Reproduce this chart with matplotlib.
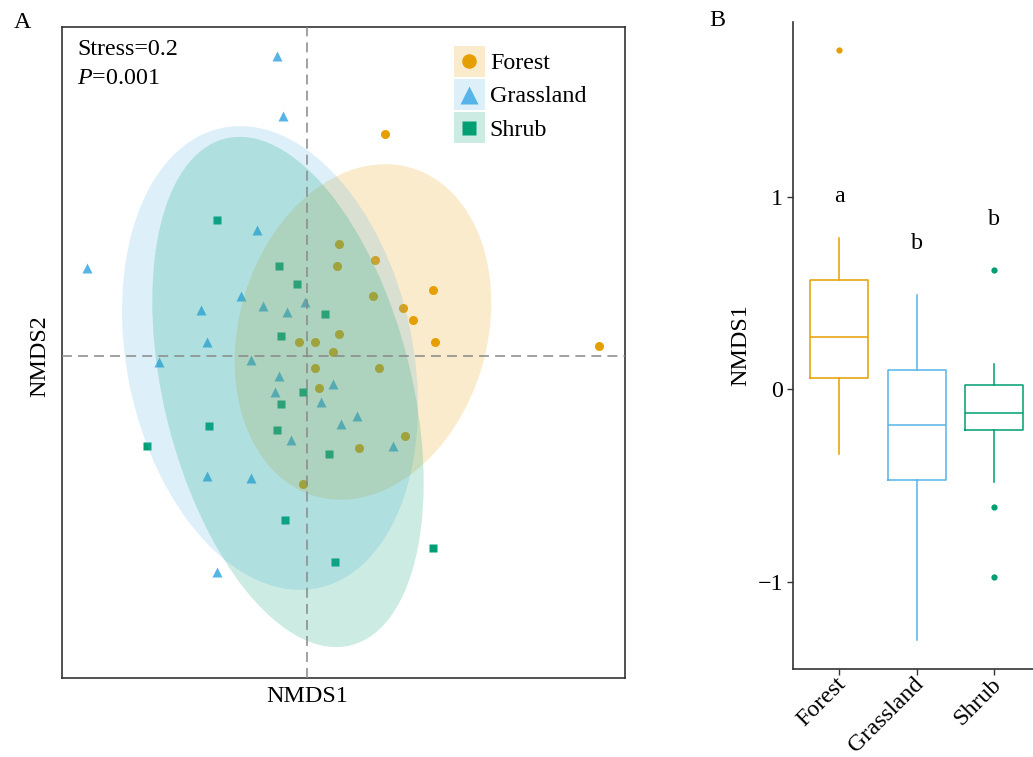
import matplotlib.pyplot as plt
import numpy as np
from matplotlib.patches import Ellipse, Patch
from matplotlib.lines import Line2D
from matplotlib.legend_handler import HandlerLine2D
from matplotlib.transforms import ScaledTranslation

plt.rcParams['font.family'] = ['Liberation Serif', 'DejaVu Serif']
plt.rcParams['mathtext.fontset'] = 'custom'
plt.rcParams['mathtext.rm'] = 'Liberation Serif'
plt.rcParams['mathtext.it'] = 'Liberation Serif:italic'
plt.rcParams['font.size'] = 17.3

groups = ['Forest', 'Grassland', 'Shrub']
colors = ['#E69F00', '#56B4E9', '#009E73']
markers = ['o', '^', 's']

# NMDS site scores
forest_x = [0.16, 0.15, 0.34, 0.33, 0.63, 0.48, 0.53, 0.16, -0.04, 0.04,
            0.64, 0.13, 0.04, 0.36, 0.06, 0.49, 0.26, -0.02, 0.39, 1.46]
forest_y = [0.56, 0.45, 0.48, 0.30, 0.33, 0.24, 0.18, 0.11, 0.07, 0.07,
            0.07, 0.02, -0.06, -0.06, -0.16, -0.40, -0.46, -0.64, 1.11, 0.05]
grass_x = [-0.15, -0.12, -1.10, -0.25, -0.33, -0.53, -0.22, -0.10, -0.01, -0.50,
           -0.74, -0.28, -0.14, -0.16, 0.13, 0.07, 0.25, 0.17, -0.08, 0.43,
           -0.50, -0.28, -0.45]
grass_y = [1.50, 1.20, 0.44, 0.63, 0.30, 0.23, 0.25, 0.22, 0.27, 0.07,
           -0.03, -0.02, -0.10, -0.18, -0.14, -0.23, -0.30, -0.34, -0.42, -0.45,
           -0.60, -0.61, -1.08]
shrub_x = [-0.45, -0.14, -0.05, 0.09, -0.13, -0.02, -0.13, -0.49, -0.15, -0.80,
           0.11, -0.11, 0.14, 0.63]
shrub_y = [0.68, 0.45, 0.36, 0.21, 0.10, -0.18, -0.24, -0.35, -0.37, -0.45,
           -0.49, -0.82, -1.03, -0.96]

# 95% confidence ellipses: centre, axis lengths, rotation (deg)
ell_cx = [0.28, -0.185, -0.095]
ell_cy = [0.12, -0.01, -0.18]
ell_w = [1.71, 2.35, 2.61]
ell_h = [1.24, 1.43, 1.24]
ell_angle = [73.7, 101.8, 103.9]

# NMDS1 summary per habitat
box_q1 = [0.06, -0.47, -0.21]
box_med = [0.27, -0.185, -0.125]
box_q3 = [0.57, 0.10, 0.025]
box_lo = [-0.335, -1.30, -0.48]
box_hi = [0.785, 0.49, 0.13]
box_fliers = [[1.765], [], [0.62, -0.61, -0.975]]
sig_letters = ['a', 'b', 'b']
letter_y = [1.0, 0.76, 0.88]

xs = [forest_x, grass_x, shrub_x]
ys = [forest_y, grass_y, shrub_y]


class CenteredMarker(HandlerLine2D):
    # put the legend marker in the middle of the filled key box
    def create_artists(self, legend, orig_handle, xdescent, ydescent,
                       width, height, fontsize, trans):
        arts = super().create_artists(legend, orig_handle, xdescent, ydescent,
                                      width, height, fontsize, trans)
        for a in arts:
            a.set_ydata(np.full(len(a.get_xdata()), height / 2 - ydescent))
        return arts


fig = plt.figure(figsize=(10.33, 7.57), dpi=100)

# ---- A: NMDS ordination
axA = fig.add_axes([0.060, 0.1044, 0.545, 0.860])
msize = [6.5, 7.5, 6.2]
for i in range(3):
    axA.plot(xs[i], ys[i], ls='none', marker=markers[i], color=colors[i],
             ms=msize[i], mec='none', zorder=2)
for i in range(3):
    axA.add_patch(Ellipse((ell_cx[i], ell_cy[i]), ell_w[i], ell_h[i],
                          angle=ell_angle[i], facecolor=colors[i],
                          edgecolor='none', alpha=0.2, zorder=3))
axA.axhline(0, color='#888888', ls=(0, (6.5, 4)), lw=1.1, zorder=4)
axA.axvline(0, color='#888888', ls=(0, (6.5, 4)), lw=1.1, zorder=4)
axA.set_xlim(-1.225, 1.59)
axA.set_ylim(-1.61, 1.645)
axA.set_xticks([])
axA.set_yticks([])
for s in axA.spines.values():
    s.set_linewidth(1.2)
    s.set_color('#333333')
axA.set_xlabel('NMDS1')
axA.xaxis.set_label_coords(0.435, -0.012, transform=axA.transAxes)
axA.xaxis.label.set_va('top')
axA.set_ylabel('NMDS2')
axA.yaxis.set_label_coords(-0.021, 0.495, transform=axA.transAxes)
axA.yaxis.label.set_va('bottom')

axA.text(0.027, 0.982, 'Stress=0.2', transform=axA.transAxes, va='top')
axA.text(0.027, 0.937, r'$\mathit{P}$=0.001', transform=axA.transAxes, va='top')

handles = [(Patch(facecolor=colors[i], alpha=0.2, edgecolor='none'),
            Line2D([], [], ls='none', marker=markers[i], color=colors[i],
                   ms=[10.5, 12.5, 9.8][i], mec='none'))
           for i in range(3)]
axA.legend(handles, groups, loc='upper left', bbox_to_anchor=(0.696, 0.971),
           frameon=False, handlelength=1.28, handleheight=1.6,
           handletextpad=0.22, labelspacing=0.1, borderpad=0,
           borderaxespad=0, handler_map={Line2D: CenteredMarker()})

# ---- B: NMDS1 boxplots
axB = fig.add_axes([0.7677, 0.1162, 0.2396, 0.8547])
for i in range(3):
    st = dict(med=box_med[i], q1=box_q1[i], q3=box_q3[i],
              whislo=box_lo[i], whishi=box_hi[i], fliers=box_fliers[i])
    lp = dict(color=colors[i], lw=1.1)
    axB.bxp([st], positions=[i + 1], widths=0.75, showcaps=False,
            boxprops=lp, whiskerprops=lp, medianprops=lp,
            flierprops=dict(marker='o', mfc=colors[i], mec='none', ms=4.5))
    axB.text(i + 1, letter_y[i], sig_letters[i], ha='center', va='center')
axB.set_xlim(0.4, 3.6)
axB.set_ylim(-1.453, 1.908)
axB.set_yticks([-1, 0, 1])
axB.set_yticklabels(['\u22121', '0', '1'])
axB.set_xticks([1, 2, 3])
axB.spines['top'].set_visible(False)
axB.spines['right'].set_visible(False)
for s in ['left', 'bottom']:
    axB.spines[s].set_linewidth(1.2)
    axB.spines[s].set_color('#333333')
axB.tick_params(length=4, width=1, color='#333333', pad=3)
axB.set_xticklabels(groups, rotation=45, ha='right', va='top',
                    rotation_mode='anchor')
# nudge the slanted labels so their ends sit just under the ticks
shift = ScaledTranslation(-0.04, 0.05, fig.dpi_scale_trans)
for lbl in axB.get_xticklabels():
    lbl.set_transform(lbl.get_transform() + shift)
axB.set_ylabel('NMDS1', labelpad=5)

fig.text(22 / 1033, 1 - 22 / 757, 'A', ha='center', va='center')
fig.text(717 / 1033, 1 - 21 / 757, 'B', ha='center', va='center')

fig.savefig('out.png', dpi=100)
